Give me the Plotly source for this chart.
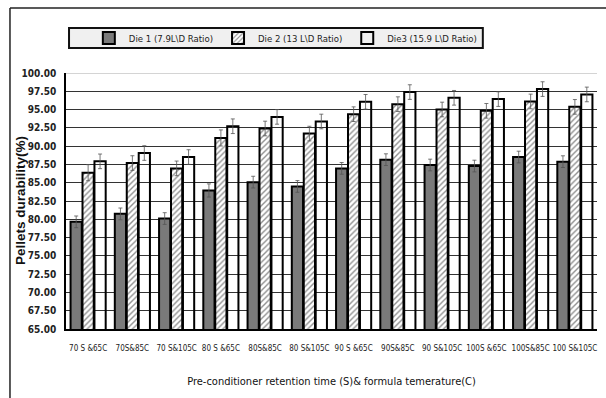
import plotly.graph_objects as go

# Pre-conditioning treatments (retention time & formula temperature)
categories = ["70 S &65C", "70S&85C", "70 S&105C", "80 S &65C", "80S&85C", "80 S&105C",
              "90 S &65C", "90S&85C", "90 S&105C", "100S &65C", "100S&85C", "100 S&105C"]

die1 = [79.65, 80.74, 80.10, 83.94, 85.08, 84.49, 86.96, 88.15, 87.42, 87.28, 88.51, 87.88]
die2 = [86.37, 87.69, 86.96, 91.12, 92.41, 91.72, 94.37, 95.74, 95.01, 94.83, 96.11, 95.37]
die3 = [87.92, 89.06, 88.51, 92.72, 94.00, 93.37, 96.06, 97.39, 96.61, 96.43, 97.80, 97.07]

err1 = [0.8, 0.8, 0.8, 0.9, 0.8, 0.8, 0.8, 0.8, 0.8, 0.8, 0.8, 0.8]
err2 = [1.1, 1.0, 1.0, 1.1, 1.0, 1.0, 1.0, 1.0, 1.0, 1.0, 1.0, 1.0]
err3 = [1.0, 1.0, 1.0, 1.0, 1.0, 1.0, 1.0, 1.0, 1.0, 1.0, 1.0, 1.0]

names = ["Die 1 (7.9L\\D Ratio)", "Die 2 (13 L\\D Ratio)", "Die3 (15.9 L\\D Ratio)"]

yticks = [65 + 2.5 * i for i in range(15)]

NARROW = "DejaVu Sans Condensed, Liberation Sans Narrow, sans-serif"

def err(vals):
    return dict(type="data", array=vals, visible=True, color="#555555",
                thickness=0.8, width=2)

fig = go.Figure()
fig.add_trace(go.Bar(
    x=categories, y=die1, name=names[0], error_y=err(err1),
    marker=dict(color="#7a7a7a", line=dict(color="black", width=2)),
))
fig.add_trace(go.Bar(
    x=categories, y=die2, name=names[1], error_y=err(err2),
    marker=dict(color="white", line=dict(color="black", width=2),
                pattern=dict(shape="/", fgcolor="#222222", bgcolor="white",
                             size=4, solidity=0.35)),
))
fig.add_trace(go.Bar(
    x=categories, y=die3, name=names[2], error_y=err(err3),
    marker=dict(color="rgba(255,255,255,0)", line=dict(color="black", width=2)),
))

shapes = [
    # outer frame (left and top edges)
    dict(type="line", xref="paper", yref="paper", x0=-0.1055, x1=-0.1055,
         y0=1.254, y1=-0.30, line=dict(color="#222222", width=1.5)),
    dict(type="line", xref="paper", yref="paper", x0=-0.1055, x1=1.03,
         y0=1.254, y1=1.254, line=dict(color="#222222", width=1.5)),
    # legend box
    dict(type="rect", xref="paper", yref="paper", x0=0.0057, x1=0.785,
         y0=1.098, y1=1.176, fillcolor="#f0f0f0",
         line=dict(color="#111111", width=2), layer="below"),
    # top boundary of the value range
    dict(type="line", xref="paper", yref="y", x0=0, x1=1, y0=100, y1=100,
         line=dict(color="#aaaaaa", width=1.2)),
]

# rotated y-axis title
annotations = [
    dict(text="<b>Pellets durability(%)</b>", xref="paper", yref="paper",
         x=-0.0866, y=0.5, xanchor="center", yanchor="middle", textangle=-90,
         showarrow=False,
         font=dict(family="Liberation Sans, Arial, sans-serif", size=13.5, color="#111111")),
]

fig.update_layout(
    width=606, height=398,
    margin=dict(l=66, r=9, t=73, b=69),
    paper_bgcolor="white", plot_bgcolor="white",
    barmode="group", bargap=0.19, bargroupgap=0.06,
    showlegend=True,
    legend=dict(orientation="h", x=0.043, y=1.137, xanchor="left", yanchor="middle",
                bgcolor="rgba(0,0,0,0)", borderwidth=0,
                font=dict(family=NARROW, size=9.5, color="#222222"),
                itemwidth=30, tracegroupgap=0, traceorder="normal"),
    shapes=shapes,
    annotations=annotations,
    xaxis=dict(
        showgrid=False, showline=True, linecolor="black", linewidth=2,
        ticks="", tickfont=dict(family=NARROW, size=8, color="#222222"),
        ticklabelstandoff=10,
        title=dict(text="Pre-conditioner retention time (S)& formula temerature(C)",
                   font=dict(family=NARROW, size=11, color="#111111"), standoff=26),
        tickangle=0,
    ),
    yaxis=dict(
        range=[65, 100], tickvals=yticks, tickformat=".2f",
        showgrid=True, gridcolor="#333333", gridwidth=1,
        showline=True, linecolor="black", linewidth=1.5,
        zeroline=False, ticks="", ticklabelstandoff=6,
        tickfont=dict(family=NARROW, size=10, color="#222222", weight="bold"),
    ),
)

fig.write_html("out.html")
